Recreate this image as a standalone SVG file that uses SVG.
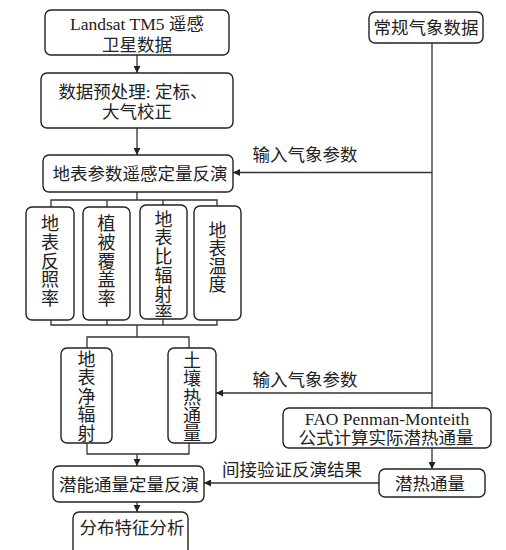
<svg xmlns="http://www.w3.org/2000/svg" width="506" height="550" viewBox="0 0 506 550">
<style>
.box{fill:#fff;stroke:#222;stroke-width:1.4}
.ln{fill:none;stroke:#333;stroke-width:1.3}
text{font-family:"Liberation Serif","Noto Sans CJK SC",serif;font-size:17.5px;fill:#222;text-anchor:middle;dominant-baseline:central}
.v{font-size:18px}
</style>
<defs>
<marker id="ah" viewBox="0 0 10 10" refX="10" refY="5" markerWidth="7" markerHeight="7" markerUnits="userSpaceOnUse" orient="auto">
<path d="M0,0 L10,5 L0,10 z" fill="#222"/>
</marker>
<clipPath id="clipC"><rect x="140" y="205" width="47" height="112"/></clipPath>
</defs>
<g id="connectors">
<line class="ln" x1="137" y1="55" x2="137" y2="73" marker-end="url(#ah)"/>
<line class="ln" x1="137" y1="128" x2="137" y2="155" marker-end="url(#ah)"/>
<line class="ln" x1="432" y1="43" x2="432" y2="408"/>
<line class="ln" x1="432" y1="172.5" x2="233" y2="172.5" marker-end="url(#ah)"/>
<line class="ln" x1="432" y1="393" x2="216" y2="393" marker-end="url(#ah)"/>
<line class="ln" x1="432" y1="448" x2="432" y2="469" marker-end="url(#ah)"/>
<line class="ln" x1="379" y1="483" x2="204" y2="483" marker-end="url(#ah)"/>
<path class="ln" d="M137,192 V200 M51,207 V200 H217 V207 M107,200 V207 M163,200 V205"/>
<path class="ln" d="M51,320 V325 H217 V320 M107,320 V325 M163,319 V325 M137,325 V337 M87,348 V337 H189 V348"/>
<path class="ln" d="M87,443 V454 H189 V443"/>
<line class="ln" x1="137" y1="454" x2="137" y2="466" marker-end="url(#ah)"/>
<line class="ln" x1="137" y1="502" x2="137" y2="512" marker-end="url(#ah)"/>
<text x="305" y="155">输入气象参数</text>
<text x="305" y="380">输入气象参数</text>
<text x="292" y="470">间接验证反演结果</text>
</g>
<g id="n1"><rect class="box" x="45" y="10" width="184" height="45" rx="6"/><text x="137" y="24">Landsat TM5 遥感</text><text x="137" y="45">卫星数据</text></g>
<g id="n2"><rect class="box" x="41" y="73" width="192" height="55" rx="6"/><text x="133" y="91.5">数据预处理: 定标、</text><text x="137" y="111.5">大气校正</text></g>
<g id="n3"><rect class="box" x="43" y="155" width="190" height="37" rx="6"/><text x="140" y="174">地表参数遥感定量反演</text></g>
<g id="n4"><rect class="box" x="369" y="12" width="114" height="31" rx="6"/><text x="426" y="27.5">常规气象数据</text></g>
<g id="nA"><rect class="box" x="26" y="207" width="48" height="113" rx="6"/><text class="v" x="50" y="224"><tspan x="50" dy="0">地</tspan><tspan x="50" dy="18.75">表</tspan><tspan x="50" dy="18.75">反</tspan><tspan x="50" dy="18.75">照</tspan><tspan x="50" dy="18.75">率</tspan></text></g>
<g id="nB"><rect class="box" x="83" y="207" width="47" height="113" rx="6"/><text class="v" x="106.5" y="224"><tspan x="106.5" dy="0">植</tspan><tspan x="106.5" dy="18.75">被</tspan><tspan x="106.5" dy="18.75">覆</tspan><tspan x="106.5" dy="18.75">盖</tspan><tspan x="106.5" dy="18.75">率</tspan></text></g>
<g id="nC"><rect class="box" x="140" y="205" width="47" height="114" rx="6"/><text class="v" x="163.5" y="219.5" clip-path="url(#clipC)"><tspan x="163.5" dy="0">地</tspan><tspan x="163.5" dy="18.75">表</tspan><tspan x="163.5" dy="18.75">比</tspan><tspan x="163.5" dy="18.75">辐</tspan><tspan x="163.5" dy="18.75">射</tspan><tspan x="163.5" dy="18.75">率</tspan></text></g>
<g id="nD"><rect class="box" x="194" y="206" width="47" height="114" rx="6"/><text class="v" x="217.5" y="230.5"><tspan x="217.5" dy="0">地</tspan><tspan x="217.5" dy="18.3">表</tspan><tspan x="217.5" dy="18.3">温</tspan><tspan x="217.5" dy="18.3">度</tspan></text></g>
<g id="nE"><rect class="box" x="61" y="348" width="51" height="95" rx="6"/><text class="v" x="86.5" y="360"><tspan x="86.5" dy="0">地</tspan><tspan x="86.5" dy="18.4">表</tspan><tspan x="86.5" dy="18.4">净</tspan><tspan x="86.5" dy="18.4">辐</tspan><tspan x="86.5" dy="18.4">射</tspan></text></g>
<g id="nF"><rect class="box" x="168" y="348" width="48" height="95" rx="6"/><text class="v" x="192" y="361"><tspan x="192" dy="0">土</tspan><tspan x="192" dy="18.3">壤</tspan><tspan x="192" dy="18.3">热</tspan><tspan x="192" dy="18.3">通</tspan><tspan x="192" dy="18.3">量</tspan></text></g>
<g id="nG"><rect class="box" x="53" y="466" width="151" height="36" rx="6"/><text x="129" y="485">潜能通量定量反演</text></g>
<g id="nH"><rect class="box" x="73" y="512" width="115" height="45" rx="6"/><text x="132" y="528">分布特征分析</text></g>
<g id="nI"><rect class="box" x="283" y="408" width="208" height="40" rx="6"/><text x="387" y="419">FAO Penman-Monteith</text><text x="386" y="438">公式计算实际潜热通量</text></g>
<g id="nJ"><rect class="box" x="379" y="469" width="106" height="28" rx="6"/><text x="430" y="483.5">潜热通量</text></g>
</svg>
